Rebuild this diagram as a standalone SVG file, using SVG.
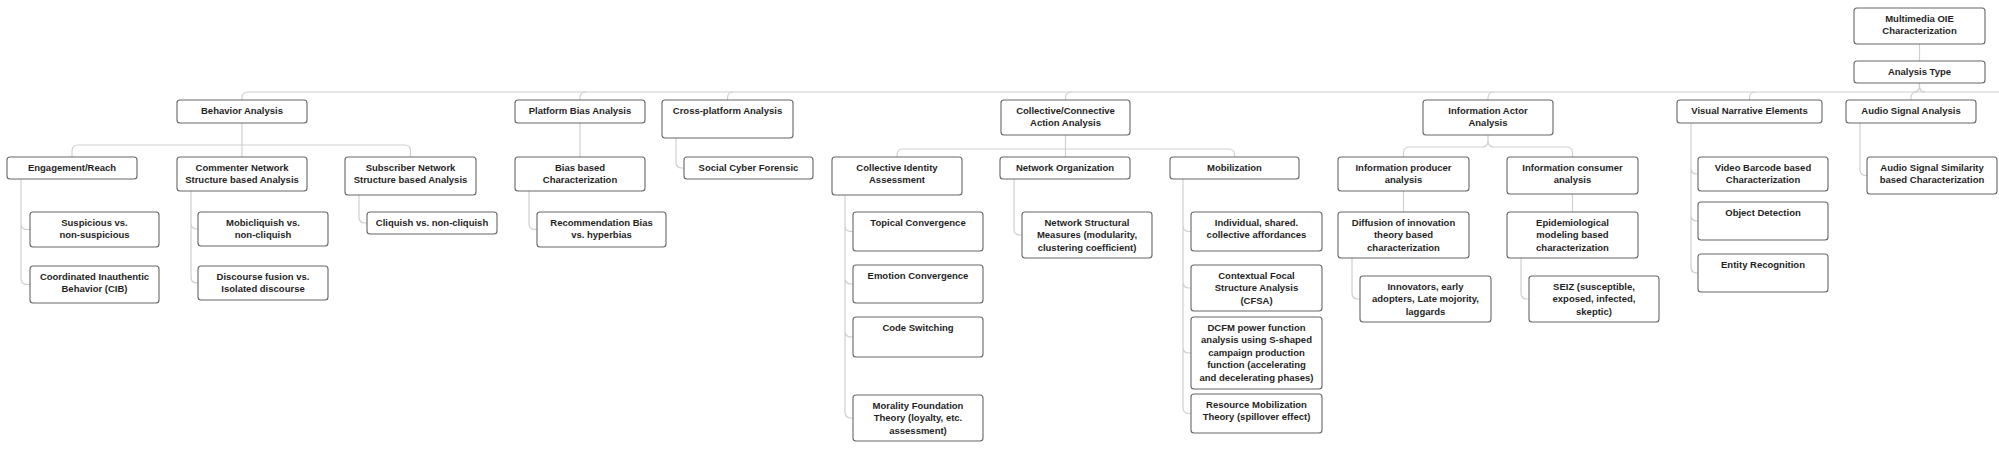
<svg xmlns="http://www.w3.org/2000/svg" width="1999" height="450" viewBox="0 0 1999 450">
<style>
.bg{fill:#ffffff}
.box{fill:#ffffff;stroke:#666666;stroke-width:1.1}
.t{font-family:"Liberation Sans",Arial,sans-serif;font-size:9.5px;font-weight:bold;fill:#1f1f1f;text-anchor:middle}
.c{fill:none;stroke:#cfcfcf;stroke-width:1.2}
</style>
<rect class="bg" x="0" y="0" width="1999" height="450"/>
<g id="connectors">
<path class="c" d="M1919.5,44 L1919.5,61"/>
<path class="c" d="M1919.5,83 L1919.5,86 Q1919.5,92 1913.5,92 M1919.5,86 Q1919.5,92 1925.5,92"/>
<path class="c" d="M248,92 L1999,92"/>
<path class="c" d="M248,92 Q242,92 242,98 L242,100"/>
<path class="c" d="M586,92 Q580,92 580,98 L580,100"/>
<path class="c" d="M733.5,92 Q727.5,92 727.5,98 L727.5,100"/>
<path class="c" d="M1071.5,92 Q1065.5,92 1065.5,98 L1065.5,100"/>
<path class="c" d="M1494,92 Q1488,92 1488,98 L1488,100"/>
<path class="c" d="M1755.5,92 Q1749.5,92 1749.5,98 L1749.5,100"/>
<path class="c" d="M1917,92 Q1911,92 1911,98 L1911,100"/>
<path class="c" d="M242,123 L242,157 M78,145 L404.5,145 M78,145 Q72,145 72,151 L72,157 M404.5,145 Q410.5,145 410.5,151 L410.5,157"/>
<path class="c" d="M580,123 L580,157"/>
<path class="c" d="M1065.5,135 L1065.5,157 M903,149 L1228.5,149 M903,149 Q897,149 897,155 L897,157 M1228.5,149 Q1234.5,149 1234.5,155 L1234.5,157"/>
<path class="c" d="M1488,135 L1488,141 Q1488,147 1482,147 L1409.5,147 Q1403.5,147 1403.5,153 L1403.5,157 M1488,141 Q1488,147 1494,147 L1566.5,147 Q1572.5,147 1572.5,153 L1572.5,157"/>
<path class="c" d="M1403.5,191 L1403.5,212"/>
<path class="c" d="M1572.5,194 L1572.5,212"/>
<path class="c" d="M21,179 L21,278.5 Q21,284.5 27,284.5 L30,284.5 M21,223.5 Q21,229.5 27,229.5 L30,229.5"/>
<path class="c" d="M191,191 L191,277 Q191,283 197,283 L198,283 M191,223 Q191,229 197,229 L198,229"/>
<path class="c" d="M359,195 L359,217 Q359,223 365,223 L367,223"/>
<path class="c" d="M529,191 L529,223.5 Q529,229.5 535,229.5 L537,229.5"/>
<path class="c" d="M676,138 L676,162 Q676,168 682,168 L684,168"/>
<path class="c" d="M845,195 L845,412 Q845,418 851,418 L853,418 M845,225.5 Q845,231.5 851,231.5 L853,231.5 M845,278 Q845,284 851,284 L853,284 M845,331 Q845,337 851,337 L853,337"/>
<path class="c" d="M1014,179 L1014,229 Q1014,235 1020,235 L1022,235"/>
<path class="c" d="M1183,179 L1183,407.5 Q1183,413.5 1189,413.5 L1191,413.5 M1183,225.5 Q1183,231.5 1189,231.5 L1191,231.5 M1183,282 Q1183,288 1189,288 L1191,288 M1183,347 Q1183,353 1189,353 L1191,353"/>
<path class="c" d="M1352,258 L1352,293 Q1352,299 1358,299 L1360,299"/>
<path class="c" d="M1521,258 L1521,293 Q1521,299 1527,299 L1529,299"/>
<path class="c" d="M1691,123 L1691,267 Q1691,273 1697,273 L1698,273 M1691,168 Q1691,174 1697,174 L1698,174 M1691,215 Q1691,221 1697,221 L1698,221"/>
<path class="c" d="M1860,123 L1860,169.5 Q1860,175.5 1866,175.5 L1867,175.5"/>
</g>
<g id="root"><rect class="box" x="1854" y="8" width="131" height="36" rx="3"/><text class="t" x="1919.5" y="21.5">Multimedia OIE</text><text class="t" x="1919.5" y="34">Characterization</text></g>
<g id="analysis-type"><rect class="box" x="1854" y="61" width="131" height="22" rx="3"/><text class="t" x="1919.5" y="74.5">Analysis Type</text></g>
<g id="behavior"><rect class="box" x="177" y="100" width="130" height="23" rx="3"/><text class="t" x="242" y="113.5">Behavior Analysis</text></g>
<g id="platform-bias"><rect class="box" x="515" y="100" width="130" height="23" rx="3"/><text class="t" x="580" y="113.5">Platform Bias Analysis</text></g>
<g id="cross-platform"><rect class="box" x="662" y="100" width="131" height="38" rx="3"/><text class="t" x="727.5" y="113.5">Cross-platform Analysis</text></g>
<g id="collective-connective"><rect class="box" x="1001" y="100" width="129" height="35" rx="3"/><text class="t" x="1065.5" y="113.5">Collective/Connective</text><text class="t" x="1065.5" y="126">Action Analysis</text></g>
<g id="information-actor"><rect class="box" x="1423" y="100" width="130" height="35" rx="3"/><text class="t" x="1488" y="113.5">Information Actor</text><text class="t" x="1488" y="126">Analysis</text></g>
<g id="visual-narrative"><rect class="box" x="1677" y="100" width="145" height="23" rx="3"/><text class="t" x="1749.5" y="113.5">Visual Narrative Elements</text></g>
<g id="audio-signal"><rect class="box" x="1846" y="100" width="130" height="23" rx="3"/><text class="t" x="1911" y="113.5">Audio Signal Analysis</text></g>
<g id="engagement"><rect class="box" x="7" y="157" width="130" height="22" rx="3"/><text class="t" x="72" y="170.5">Engagement/Reach</text></g>
<g id="commenter"><rect class="box" x="177" y="157" width="130" height="34" rx="3"/><text class="t" x="242" y="170.5">Commenter Network</text><text class="t" x="242" y="183">Structure based Analysis</text></g>
<g id="subscriber"><rect class="box" x="345" y="157" width="131" height="38" rx="3"/><text class="t" x="410.5" y="170.5">Subscriber Network</text><text class="t" x="410.5" y="183">Structure based Analysis</text></g>
<g id="suspicious"><rect class="box" x="30" y="212" width="129" height="35" rx="3"/><text class="t" x="94.5" y="225.5">Suspicious vs.</text><text class="t" x="94.5" y="238">non-suspicious</text></g>
<g id="cib"><rect class="box" x="30" y="266" width="129" height="37" rx="3"/><text class="t" x="94.5" y="279.5">Coordinated Inauthentic</text><text class="t" x="94.5" y="292">Behavior (CIB)</text></g>
<g id="mobicliquish"><rect class="box" x="198" y="212" width="130" height="34" rx="3"/><text class="t" x="263" y="225.5">Mobicliquish vs.</text><text class="t" x="263" y="238">non-cliquish</text></g>
<g id="discourse"><rect class="box" x="198" y="266" width="130" height="34" rx="3"/><text class="t" x="263" y="279.5">Discourse fusion vs.</text><text class="t" x="263" y="292">Isolated discourse</text></g>
<g id="cliquish"><rect class="box" x="367" y="212" width="130" height="22" rx="3"/><text class="t" x="432" y="225.5">Cliquish vs. non-cliquish</text></g>
<g id="bias-based"><rect class="box" x="515" y="157" width="130" height="34" rx="3"/><text class="t" x="580" y="170.5">Bias based</text><text class="t" x="580" y="183">Characterization</text></g>
<g id="recommendation"><rect class="box" x="537" y="212" width="129" height="35" rx="3"/><text class="t" x="601.5" y="225.5">Recommendation Bias</text><text class="t" x="601.5" y="238">vs. hyperbias</text></g>
<g id="social-cyber"><rect class="box" x="684" y="157" width="129" height="22" rx="3"/><text class="t" x="748.5" y="170.5">Social Cyber Forensic</text></g>
<g id="collective-identity"><rect class="box" x="832" y="157" width="130" height="38" rx="3"/><text class="t" x="897" y="170.5">Collective Identity</text><text class="t" x="897" y="183">Assessment</text></g>
<g id="topical"><rect class="box" x="853" y="212" width="130" height="39" rx="3"/><text class="t" x="918" y="225.5">Topical Convergence</text></g>
<g id="emotion"><rect class="box" x="853" y="265" width="130" height="38" rx="3"/><text class="t" x="918" y="278.5">Emotion Convergence</text></g>
<g id="code-switching"><rect class="box" x="853" y="317" width="130" height="40" rx="3"/><text class="t" x="918" y="330.5">Code Switching</text></g>
<g id="morality"><rect class="box" x="853" y="395" width="130" height="46" rx="3"/><text class="t" x="918" y="408.5">Morality Foundation</text><text class="t" x="918" y="421">Theory (loyalty, etc.</text><text class="t" x="918" y="433.5">assessment)</text></g>
<g id="network-organization"><rect class="box" x="1000" y="157" width="130" height="22" rx="3"/><text class="t" x="1065" y="170.5">Network Organization</text></g>
<g id="network-structural"><rect class="box" x="1022" y="212" width="130" height="46" rx="3"/><text class="t" x="1087" y="225.5">Network Structural</text><text class="t" x="1087" y="238">Measures (modularity,</text><text class="t" x="1087" y="250.5">clustering coefficient)</text></g>
<g id="mobilization"><rect class="box" x="1170" y="157" width="129" height="22" rx="3"/><text class="t" x="1234.5" y="170.5">Mobilization</text></g>
<g id="individual"><rect class="box" x="1191" y="212" width="131" height="39" rx="3"/><text class="t" x="1256.5" y="225.5">Individual, shared.</text><text class="t" x="1256.5" y="238">collective affordances</text></g>
<g id="cfsa"><rect class="box" x="1191" y="265" width="131" height="46" rx="3"/><text class="t" x="1256.5" y="278.5">Contextual Focal</text><text class="t" x="1256.5" y="291">Structure Analysis</text><text class="t" x="1256.5" y="303.5">(CFSA)</text></g>
<g id="dcfm"><rect class="box" x="1191" y="317" width="131" height="72" rx="3"/><text class="t" x="1256.5" y="330.5">DCFM power function</text><text class="t" x="1256.5" y="343">analysis using S-shaped</text><text class="t" x="1256.5" y="355.5">campaign production</text><text class="t" x="1256.5" y="368">function (accelerating</text><text class="t" x="1256.5" y="380.5">and decelerating phases)</text></g>
<g id="resource-mobilization"><rect class="box" x="1191" y="394" width="131" height="39" rx="3"/><text class="t" x="1256.5" y="407.5">Resource Mobilization</text><text class="t" x="1256.5" y="420">Theory (spillover effect)</text></g>
<g id="info-producer"><rect class="box" x="1338" y="157" width="131" height="34" rx="3"/><text class="t" x="1403.5" y="170.5">Information producer</text><text class="t" x="1403.5" y="183">analysis</text></g>
<g id="diffusion"><rect class="box" x="1338" y="212" width="131" height="46" rx="3"/><text class="t" x="1403.5" y="225.5">Diffusion of innovation</text><text class="t" x="1403.5" y="238">theory based</text><text class="t" x="1403.5" y="250.5">characterization</text></g>
<g id="innovators"><rect class="box" x="1360" y="276" width="131" height="46" rx="3"/><text class="t" x="1425.5" y="289.5">Innovators, early</text><text class="t" x="1425.5" y="302">adopters, Late mojority,</text><text class="t" x="1425.5" y="314.5">laggards</text></g>
<g id="info-consumer"><rect class="box" x="1507" y="157" width="131" height="37" rx="3"/><text class="t" x="1572.5" y="170.5">Information consumer</text><text class="t" x="1572.5" y="183">analysis</text></g>
<g id="epidemiological"><rect class="box" x="1507" y="212" width="131" height="46" rx="3"/><text class="t" x="1572.5" y="225.5">Epidemiological</text><text class="t" x="1572.5" y="238">modeling based</text><text class="t" x="1572.5" y="250.5">characterization</text></g>
<g id="seiz"><rect class="box" x="1529" y="276" width="130" height="46" rx="3"/><text class="t" x="1594" y="289.5">SEIZ (susceptible,</text><text class="t" x="1594" y="302">exposed, infected,</text><text class="t" x="1594" y="314.5">skeptic)</text></g>
<g id="video-barcode"><rect class="box" x="1698" y="157" width="130" height="34" rx="3"/><text class="t" x="1763" y="170.5">Video Barcode based</text><text class="t" x="1763" y="183">Characterization</text></g>
<g id="object-detection"><rect class="box" x="1698" y="202" width="130" height="38" rx="3"/><text class="t" x="1763" y="215.5">Object Detection</text></g>
<g id="entity-recognition"><rect class="box" x="1698" y="254" width="130" height="38" rx="3"/><text class="t" x="1763" y="267.5">Entity Recognition</text></g>
<g id="audio-similarity"><rect class="box" x="1867" y="157" width="130" height="37" rx="3"/><text class="t" x="1932" y="170.5">Audio Signal Similarity</text><text class="t" x="1932" y="183">based Characterization</text></g>
</svg>
